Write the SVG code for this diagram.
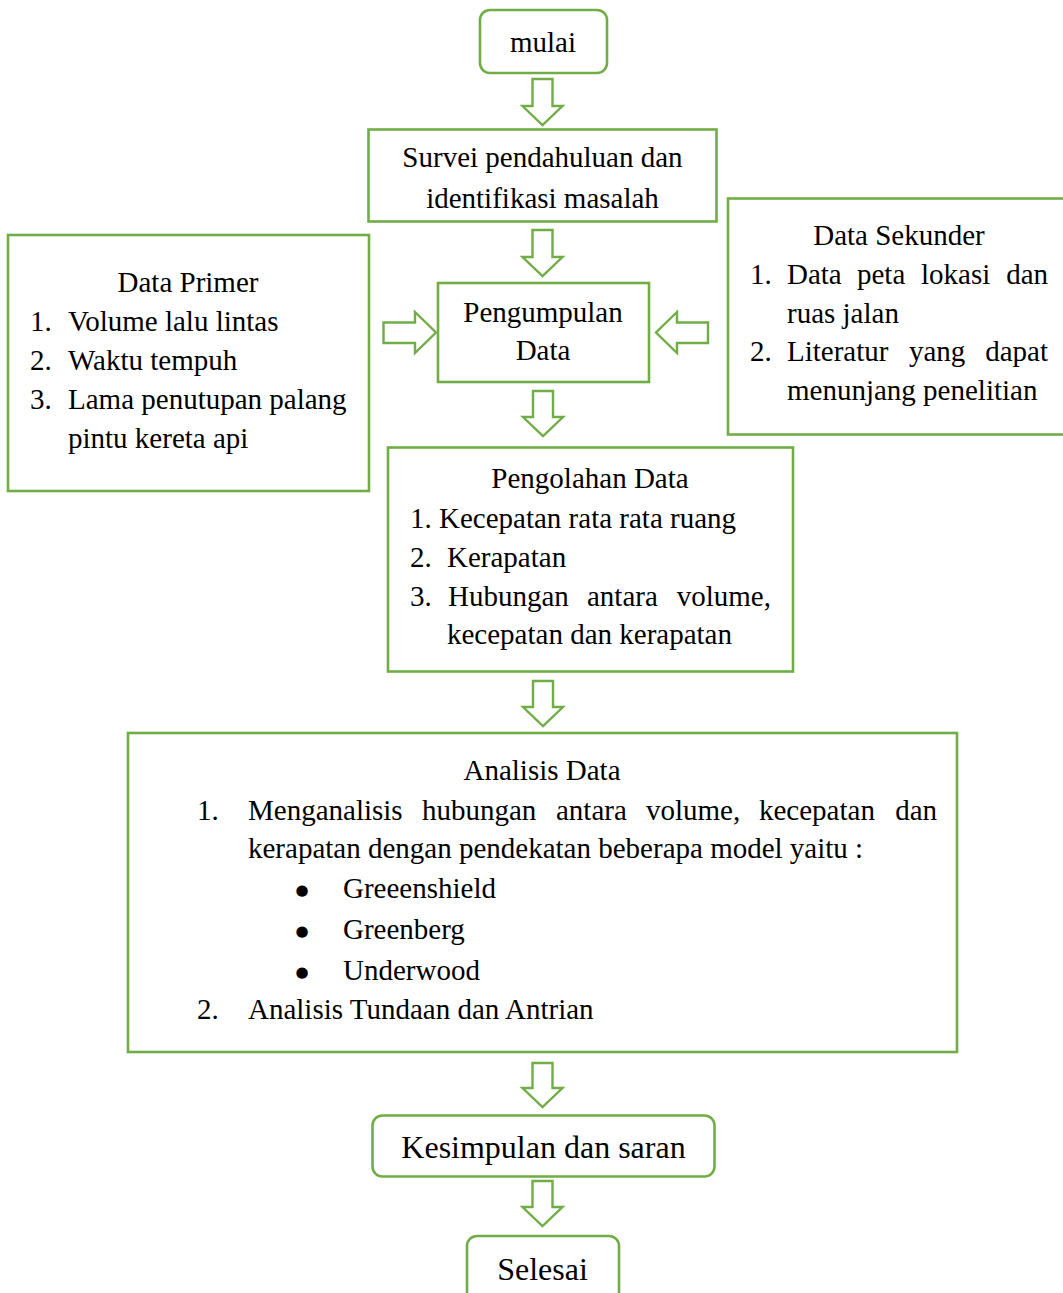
<svg xmlns="http://www.w3.org/2000/svg" width="1063" height="1293" viewBox="0 0 1063 1293">
<style>
.box{fill:#ffffff;stroke:#70AD47;stroke-width:2.6}
.arr{fill:#ffffff;stroke:#70AD47;stroke-width:2.4;stroke-linejoin:miter}
text{font-family:"Liberation Serif","Times New Roman",serif;font-size:29px;fill:#000000}
.c{text-anchor:middle}
.e{text-anchor:end}
.big{font-size:32px}
.bul{font-family:"DejaVu Sans",sans-serif;font-size:15px;text-anchor:middle}
</style>
<rect width="1063" height="1293" fill="#ffffff"/>
<g id="connectors">
<polygon class="arr" points="532.5,79 552.5,79 552.5,106 562.5,106 542.5,125 522.5,106 532.5,106"/>
<polygon class="arr" points="532.5,230 552.5,230 552.5,257 562.5,257 542.5,276 522.5,257 532.5,257"/>
<polygon class="arr" points="533,391 553,391 553,417 563,417 543,436 523,417 533,417"/>
<polygon class="arr" points="533,681 553,681 553,707 563,707 543,726 523,707 533,707"/>
<polygon class="arr" points="532.5,1063 552.5,1063 552.5,1088 562.5,1088 542.5,1107 522.5,1088 532.5,1088"/>
<polygon class="arr" points="532.5,1181 552.5,1181 552.5,1207 562.5,1207 542.5,1226 522.5,1207 532.5,1207"/>
<polygon class="arr" points="383.5,322.5 415,322.5 415,312 436,332.5 415,353 415,343 383.5,343"/>
<polygon class="arr" points="708,322.5 677,322.5 677,312 656,332.5 677,353 677,343 708,343"/>
</g>
<g id="mulai">
<rect class="box" x="480" y="10" width="127" height="63" rx="10"/>
<text class="c" x="543" y="52">mulai</text>
</g>
<g id="survei">
<rect class="box" x="368.5" y="129.5" width="348" height="92"/>
<text class="c" x="542.5" y="167">Survei pendahuluan dan</text>
<text class="c" x="542.5" y="208">identifikasi masalah</text>
</g>
<g id="data-primer">
<rect class="box" x="8" y="235" width="361" height="256"/>
<text class="c" x="188" y="292">Data Primer</text>
<text x="30" y="331">1.</text><text x="68" y="331">Volume lalu lintas</text>
<text x="30" y="370">2.</text><text x="68" y="370">Waktu tempuh</text>
<text x="30" y="409">3.</text><text x="68" y="409">Lama penutupan palang</text>
<text x="68" y="448">pintu kereta api</text>
</g>
<g id="pengumpulan">
<rect class="box" x="438" y="283" width="211" height="99"/>
<text class="c" x="543" y="322">Pengumpulan</text>
<text class="c" x="543" y="360">Data</text>
</g>
<g id="data-sekunder">
<rect class="box" x="728" y="198.5" width="345" height="236"/>
<text class="c" x="899" y="245">Data Sekunder</text>
<text x="750" y="284">1.</text>
<text x="787" y="284">Data</text><text x="857" y="284">peta</text><text x="921" y="284">lokasi</text><text class="e" x="1048" y="284">dan</text>
<text x="787" y="323">ruas jalan</text>
<text x="750" y="361">2.</text>
<text x="787" y="361">Literatur</text><text x="909" y="361">yang</text><text class="e" x="1048" y="361">dapat</text>
<text x="787" y="400">menunjang penelitian</text>
</g>
<g id="pengolahan">
<rect class="box" x="388" y="447.5" width="405" height="224"/>
<text class="c" x="590" y="488">Pengolahan Data</text>
<text x="410" y="528">1.</text><text x="439" y="528">Kecepatan rata rata ruang</text>
<text x="410" y="567">2.</text><text x="447" y="567">Kerapatan</text>
<text x="410" y="606">3.</text>
<text x="448" y="606">Hubungan</text><text x="587" y="606">antara</text><text class="e" x="771" y="606">volume,</text>
<text x="447" y="644">kecepatan dan kerapatan</text>
</g>
<g id="analisis">
<rect class="box" x="128" y="733" width="829" height="319"/>
<text class="c" x="542" y="780">Analisis Data</text>
<text x="197" y="820">1.</text>
<text x="248" y="820">Menganalisis</text><text x="422" y="820">hubungan</text><text x="556" y="820">antara</text><text x="646" y="820">volume,</text><text x="759" y="820">kecepatan</text><text class="e" x="937" y="820">dan</text>
<text x="248" y="858">kerapatan dengan pendekatan beberapa model yaitu :</text>
<text class="bul" x="302" y="895">●</text><text x="343" y="898">Greeenshield</text>
<text class="bul" x="302" y="936">●</text><text x="343" y="939">Greenberg</text>
<text class="bul" x="302" y="977">●</text><text x="343" y="980">Underwood</text>
<text x="197" y="1019">2.</text><text x="248" y="1019">Analisis Tundaan dan Antrian</text>
</g>
<g id="kesimpulan">
<rect class="box" x="372.5" y="1115.5" width="342" height="61" rx="10"/>
<text class="c big" x="543.5" y="1158">Kesimpulan dan saran</text>
</g>
<g id="selesai">
<rect class="box" x="467" y="1236" width="152" height="72" rx="10"/>
<text class="c big" x="542.5" y="1280">Selesai</text>
</g>
</svg>
